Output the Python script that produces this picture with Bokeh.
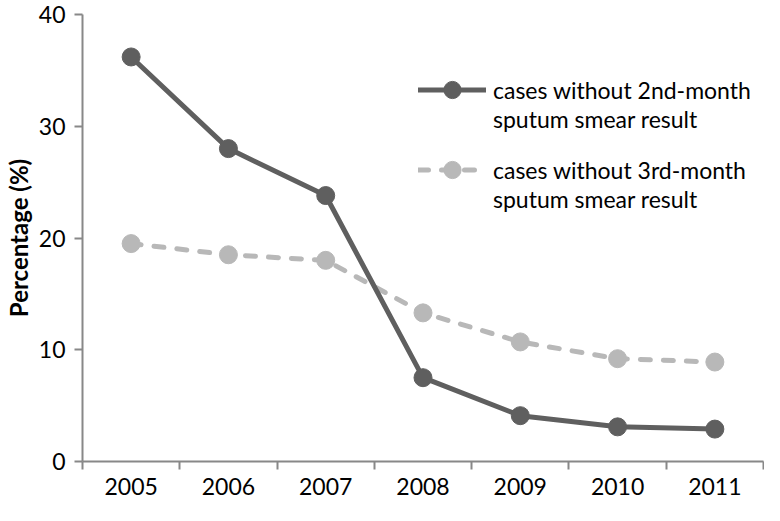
from bokeh.plotting import figure
from bokeh.models import Range1d, FixedTicker, Legend, LegendItem
from bokeh.embed import file_html
from bokeh.resources import INLINE

years = ["2005", "2006", "2007", "2008", "2009", "2010", "2011"]
without_2nd = [36.2, 28.0, 23.8, 7.5, 4.1, 3.1, 2.9]
without_3rd = [19.5, 18.5, 18.0, 13.3, 10.7, 9.2, 8.9]
y_ticks = [0, 10, 20, 30, 40]
label_2nd = ["cases without 2nd-month", "sputum smear result"]
label_3rd = ["cases without 3rd-month", "sputum smear result"]

FONT = "Lato"
FS = "23px"
DARK = "#5f5f5f"
LIGHT = "#b8b8b8"
AXIS = "#888888"

xs = [i + 0.5 for i in range(len(years))]

p = figure(width=764, height=505, output_backend="svg", toolbar_location=None,
           x_range=Range1d(0, len(years)), y_range=Range1d(0, 40),
           min_border_left=72, min_border_right=1, min_border_top=14, min_border_bottom=44)
p.outline_line_color = None
p.xgrid.grid_line_color = None
p.ygrid.grid_line_color = None

# x axis: labels at category centres, ticks at category boundaries
p.xaxis.ticker = FixedTicker(ticks=xs, minor_ticks=list(range(len(years) + 1)))
p.xaxis.major_label_overrides = {x: y for x, y in zip(xs, years)}
p.xaxis.major_tick_line_color = None
p.xaxis.major_tick_out = 0
p.xaxis.major_tick_in = 0
p.xaxis.minor_tick_in = 0
p.xaxis.minor_tick_out = 8
p.xaxis.minor_tick_line_color = AXIS
p.xaxis.minor_tick_line_width = 2
p.xaxis.axis_line_color = AXIS
p.xaxis.axis_line_width = 2
p.xaxis.major_label_text_font = FONT
p.xaxis.major_label_text_font_size = FS
p.xaxis.major_label_text_color = "black"
p.xaxis.major_label_standoff = 8

p.yaxis.ticker = FixedTicker(ticks=y_ticks)
p.yaxis.minor_tick_line_color = None
p.yaxis.major_tick_in = 0
p.yaxis.major_tick_out = 8
p.yaxis.major_tick_line_color = AXIS
p.yaxis.major_tick_line_width = 2
p.yaxis.axis_line_color = AXIS
p.yaxis.axis_line_width = 2
p.yaxis.major_label_text_font = FONT
p.yaxis.major_label_text_font_size = FS
p.yaxis.major_label_text_color = "black"
p.yaxis.major_label_standoff = 9
p.yaxis.axis_label = "Percentage (%)"
p.yaxis.axis_label_text_font = FONT
p.yaxis.axis_label_text_font_size = "24px"
p.yaxis.axis_label_text_font_style = "bold"
p.yaxis.axis_label_text_color = "black"
p.yaxis.axis_label_standoff = 3

l2 = p.line(xs, without_3rd, line_color=LIGHT, line_width=5, line_dash="10 13", line_cap="round")
s2 = p.scatter(xs, without_3rd, size=18, fill_color=LIGHT, line_color=LIGHT)
l1 = p.line(xs, without_2nd, line_color=DARK, line_width=5, line_cap="round")
s1 = p.scatter(xs, without_2nd, size=18, fill_color=DARK, line_color=DARK)
blank = p.line(x=[], y=[], line_alpha=0)


def make_legend(renderers, text, loc, gh):
    lg = Legend(items=[LegendItem(label=text, renderers=renderers)], location=loc)
    lg.border_line_color = None
    lg.background_fill_alpha = 0
    lg.padding = 0
    lg.margin = 0
    lg.label_text_font = FONT
    lg.label_text_font_size = FS
    lg.label_text_color = "black"
    lg.glyph_width = 68
    lg.glyph_height = gh
    lg.label_height = 30
    lg.label_standoff = 7
    return lg


p.add_layout(make_legend([l1, s1], label_2nd[0], (336, 350), 43))
p.add_layout(make_legend([blank], label_2nd[1], (336, 327), 30))
p.add_layout(make_legend([l2, s2], label_3rd[0], (336, 270), 43))
p.add_layout(make_legend([blank], label_3rd[1], (336, 247), 30))

open("out.html", "w").write(file_html(p, INLINE))
